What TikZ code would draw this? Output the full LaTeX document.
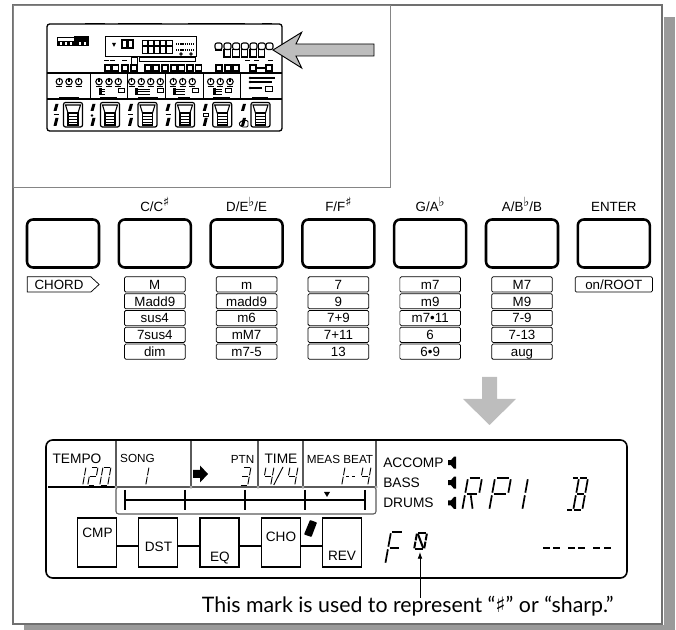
\documentclass[tikz,border=0pt]{standalone}
\usepackage{fontspec}
\usepackage{tikz}
\usetikzlibrary{arrows.meta, positioning, shapes.symbols}
\setmainfont{Liberation Sans}
\newfontfamily\notefont{Lato}
\newfontfamily\symfont{DejaVu Sans}
\definecolor{framegray}{HTML}{707070}
\definecolor{shadowgray}{HTML}{9A9A9A}
\definecolor{arrowgray}{HTML}{BDBDBD}
\definecolor{lcdgray}{HTML}{5A5A5A}
\newcommand{\shp}{\raisebox{.6ex}{\symfont\fontsize{9.5}{9.5}\selectfont ♯}}
\newcommand{\flt}{\raisebox{.7ex}{\symfont\fontsize{9.5}{9.5}\selectfont ♭}}
% lcd segments: a top, b-c right, d bottom, e-f left, g middle, h leg of R, n slashed, s slash
\def\lcdsega{(0.12,0)--(0.88,0)}
\def\lcdsegb{(1,0.08)--(1,0.92)}
\def\lcdsegc{(1,1.08)--(1,1.92)}
\def\lcdsegd{(0.12,2)--(0.88,2)}
\def\lcdsege{(0,1.08)--(0,1.92)}
\def\lcdsegf{(0,0.08)--(0,0.92)}
\def\lcdsegg{(0.12,1)--(0.88,1)}
\def\lcdsegh{(0.42,1.08)--(0.72,1.92)}
\def\lcdsegn{(0.1,0.1)--(0.9,1.9)}
\def\lcdsegs{(0,2)--(1,0)}
\newcommand{\lcdchar}[6][1.3pt]{%
  \begin{scope}[shift={(#2,#3)},x={(#4*0.75pt,0pt)},y={(-#5*0.0675pt,-#5*0.375pt)},line width=#1]
    \foreach \seg in {#6} {
      \expandafter\let\expandafter\segpath\csname lcdseg\seg\endcsname
      \draw \segpath;
    }
  \end{scope}}
\begin{document}
\begin{tikzpicture}[
    x=0.75pt, y=-0.75pt,
    node distance=12.95pt,
    keybtn/.style={draw, line width=1.9pt, rounded corners=4.5pt, minimum width=54pt, minimum height=36pt, inner sep=0pt},
    keylbl/.style={font=\fontsize{10}{12}\selectfont, inner sep=0pt, text height=8pt, text depth=0pt},
    chordbox/.style={draw, line width=0.55pt, rounded corners=1pt, minimum width=45.5pt, minimum height=11.4pt, inner sep=0pt, font=\fontsize{10}{11}\selectfont, text height=7.4pt, text depth=0.2pt},
    fxbox/.style={draw, line width=1.2pt, minimum width=29.5pt, minimum height=36.5pt, inner sep=0pt},
    fxlbl/.style={font=\fontsize{10.2}{12}\selectfont, inner sep=0pt},
    lcdlbl/.style={font=\fontsize{10.3}{12}\selectfont, inner sep=0pt},
    smalllbl/.style={font=\fontsize{8.8}{10}\selectfont, inner sep=0pt},
    devline/.style={line width=0.7pt},
    bigarrow/.style={fill=arrowgray}
]
    \useasboundingbox (0,0) rectangle (676,630);

    % Cornice e ombra
    \fill[shadowgray] (664,17) rectangle (675,630);
    \fill[shadowgray] (24,625) rectangle (675,630);
    \draw[framegray, line width=1.8pt] (13,5) rectangle (662,624);
    \draw[framegray!85, line width=0.7pt] (13,5) rectangle (390.5,187);

    % Pannello in miniatura
    \draw[line width=1pt, rounded corners=2pt] (47,24) rectangle (282,131);
    \foreach \xa/\xb in {85/105, 118/162, 188/245, 262/272}
        \draw[devline] (\xa,23.5) -- (\xb,23.5);
    \draw[line width=0.8pt] (47,73) -- (282,73);
    \draw[line width=0.8pt] (47,99) -- (282,99);
    \foreach \x in {90,127.5,165,203,240}
        \draw[devline] (\x,73) -- (\x,99);
    % logo
    \draw[devline] (57,37) rectangle (74,41);
    \fill (74,36.5) rectangle (89,41);
    \fill (57,41.5) rectangle (89,46.5);
    \foreach \x in {60,65,70,79,84}
        \fill[white] (\x,42.5) rectangle (\x+2,45);
    % display
    \draw[devline] (105,36) rectangle (196,56);
    \fill (112,43) -- (116,43) -- (114,47) -- cycle;
    \draw[line width=0.9pt] (122,40) rectangle (127,48);
    \draw[line width=0.9pt] (128,40) rectangle (133,48);
    \draw[devline] (142,40) rectangle (172,53);
    \foreach \x in {148,154,160,166}
        \draw[line width=1pt] (\x,40) -- (\x,53);
    \draw[line width=1.2pt] (142,46) -- (172,46);
    \foreach \y in {44,50} {
        \draw[line width=2pt, dash pattern=on 1pt off 0.6pt] (176,\y) -- (195,\y);
    }
    \foreach \x in {181,191}
        \draw[devline] (\x,54) circle (1.3);
    % pulsanti a destra
    \foreach \xa in {215,224,232.7,241.3,250,258.3,266}
        \draw[line width=0.8pt, rounded corners=1.5pt] (\xa,43) rectangle (\xa+7,49.5);
    \foreach \xa in {224,232.7,241.3,250,258.3}
        \draw[line width=0.8pt] (\xa,49.5) rectangle (\xa+6.5,57);
    \draw[line width=1pt] (215,50) -- (222,50);
    % fila sotto il display
    \foreach \xa in {105,112.5,122,131,145,153,162,171,178.5,187,195.5,216,225,233,250,266}
        \draw[line width=0.8pt] (\xa,65) rectangle (\xa+6,71);
    \draw[devline] (131,57) rectangle (137,65);
    \draw[devline] (139,57) rectangle (195,61);
    \foreach \x in {106,112,124,247,256,270}
        \fill (\x-2,60) rectangle (\x+3,61.5);
    \draw[line width=1.2pt] (256,68) -- (266,68);
    % manopole
    \foreach \x in {59.3,69,78.7,99,109,118.3,131.7,141.3,150.7,160.3,173.3,182.7,192.3,210.7,220.3,230} {
        \draw[line width=0.8pt] (\x,81.7) circle (3.2);
        \draw[line width=0.8pt] (\x,78) -- (\x,81.7);
        \draw[line width=0.5pt] (\x-3,86.5) -- (\x+3,86.5);
    }
    \foreach \xa/\xb in {59/79, 100/117, 138/158, 178/190, 213/230, 252/268}
        \draw[line width=0.8pt] (\xa,97.7) -- (\xb,97.7);
    % cursori
    \foreach \xa/\xb/\xc in {99/105/118, 135/150/157, 173/185/192, 213/222/225} {
        \fill (\xa,88) rectangle (\xa+2.5,95);
        \foreach \y in {89,91.5,94}
            \draw[line width=0.5pt] (\xa,\y) -- (\xb,\y);
        \draw[line width=0.7pt] (\xc,88) rectangle (\xc+6,92);
    }
    \foreach \y/\xb in {78/275, 82/272, 88/262}
        \draw[line width=0.8pt] (250,\y) -- (\xb,\y);
    \foreach \y in {78,82,88}
        \fill (250,\y) circle (1.4);
    \draw[line width=0.7pt] (265,86) rectangle (272,91);
    % pedali
    \foreach \x in {63.5,100.5,138,175.5,212.7,251} {
        \draw[line width=0.9pt, rounded corners=1.5pt] (\x,102.5) rectangle (\x+19,127);
        \draw[line width=0.8pt] (\x+2,105) -- (\x+17,105) -- (\x+14.5,113) -- (\x+4.5,113) -- cycle;
        \draw[line width=0.9pt] (\x+4.5,113) rectangle (\x+14.5,125);
        \foreach \y in {116,119,122}
            \draw[line width=0.5pt] (\x+4.5,\y) -- (\x+14.5,\y);
        \fill (\x-8,104) -- (\x-5,104) -- (\x-7,111) -- (\x-10,111) -- cycle;
        \fill (\x-8,118) -- (\x-5,118) -- (\x-7,126) -- (\x-10,126) -- cycle;
    }
    \foreach \x in {63.5,138,175.5}
        \draw[line width=0.7pt] (\x-10,114.5) -- (\x-5,114.5);
    \fill (92,115.5) circle (1.4);
    \draw[line width=0.7pt] (203.5,113) rectangle (208,116.5);
    \draw[line width=0.7pt, rounded corners=1pt] (242,120.5) -- (248,120.5) -- (248,127) -- (242,127) -- (238.5,124) -- cycle;

    % Freccia verso i tasti
    \draw[bigarrow, line width=0.7pt] (273,50) -- (301.7,32.3) -- (296,44) -- (374,44)
        -- (374,56) -- (296,56) -- (301.7,68) -- cycle;

    % Tasti
    \node[keybtn] at (63,243.5) (kchord) {};
    \node[keybtn, right=of kchord] (kc) {};
    \node[keybtn, right=of kc] (kd) {};
    \node[keybtn, right=of kd] (kf) {};
    \node[keybtn, right=of kf] (kg) {};
    \node[keybtn, right=of kg] (ka) {};
    \node[keybtn, right=of ka] (kenter) {};

    \node[keylbl, above=5.2pt of kc] (lblc) {C/C\shp};
    \node[keylbl, above=5.2pt of kd] (lbld) {D/E\flt/E};
    \node[keylbl, above=5.2pt of kf] (lblf) {F/F\shp};
    \node[keylbl, above=5.2pt of kg] (lblg) {G/A\flt};
    \node[keylbl, above=5.2pt of ka] (lbla) {A/B\flt/B};
    \node[keylbl, above=5.2pt of kenter] (lblenter) {ENTER};

    % Tipi di accordo
    \foreach \col/\ta/\tb/\tc/\td/\te in {kc/M/Madd9/sus4/7sus4/dim, kd/m/madd9/m6/mM7/m7-5,
        kf/7/9/7+9/7+11/13, kg/m7/m9/m7•11/6/6•9, ka/M7/M9/7-9/7-13/aug} {
        \node[chordbox, below=5.8pt of \col] (\col a) {\ta};
        \node[chordbox, below=0.65pt of \col a] (\col b) {\tb};
        \node[chordbox, below=0.65pt of \col b] (\col c) {\tc};
        \node[chordbox, below=0.65pt of \col c] (\col d) {\td};
        \node[chordbox, below=0.65pt of \col d] (\col e) {\te};
    }
    \node[chordbox, shape=signal, signal to=east, signal pointer angle=85, rounded corners=0pt, minimum width=54pt, below=5.8pt of kchord, xshift=-3pt] (chordtag) {CHORD\hspace{6pt}};
    \node[chordbox, minimum width=58pt, below=5.8pt of kenter] (roottag) {on/ROOT};

    % Freccia in basso
    \fill[arrowgray] (482,377) -- (497,377) -- (497,399) -- (516,399) -- (489.5,425)
        -- (463,399) -- (482,399) -- cycle;

    % Display LCD
    \draw[line width=1.2pt, rounded corners=5pt] (46,440) rectangle (627,578);
    \draw[line width=1pt] (48,487) -- (116,487);
    \draw[lcdgray, line width=1pt] (116,487) -- (376,487);
    \foreach \x in {116,191,258,303,376}
        \draw[lcdgray, line width=0.8pt] (\x,441) -- (\x,487);
    \draw[lcdgray, line width=0.8pt, rounded corners=2pt] (116,487) rectangle (376,514);
    \foreach \x in {116,191,258,303,376}
        \draw[lcdgray, fill=white, line width=0.3pt] (\x,487) circle (1.3);
    \draw[line width=0.9pt] (125,500) -- (365,500);
    \foreach \x in {125,185,245,305,365}
        \draw[line width=1.3pt] (\x,490) -- (\x,510);
    \fill (324,492) -- (330,492) -- (327,497) -- cycle;
    \fill (193,470) -- (200,470) -- (200,465.5) -- (208,474) -- (200,482.5) -- (200,478) -- (193,478) -- cycle;

    \node[lcdlbl] (tempo) at (77,459) {TEMPO};
    \node[smalllbl] (song) at (137.5,458) {SONG};
    \node[smalllbl] (ptn) at (242.5,459) {PTN};
    \node[lcdlbl] (time) at (281,459) {TIME};
    \node[smalllbl] (measbeat) at (340,459) {MEAS BEAT};
    \node[lcdlbl, anchor=west] (accomp) at (383,462.7) {ACCOMP};
    \node[lcdlbl, anchor=west] (bass) at (383,482.7) {BASS};
    \node[lcdlbl, anchor=west] (drums) at (383,503) {DRUMS};
    \foreach \y in {462.7,482.7,503}
        \fill (448,\y-2.5) -- (451,\y-2.5) -- (454,\y-6) -- (456,\y-6) -- (456,\y+6) -- (454,\y+6) -- (451,\y+2.5) -- (448,\y+2.5) -- cycle;

    % Cifre a segmenti
    \lcdchar[0.7pt]{83}{467}{3}{18}{b,c}
    \lcdchar[0.7pt]{91}{467}{7}{18}{a,b,g,e,d}
    \lcdchar[0.7pt]{103}{467}{8}{18}{a,b,c,d,e,f}
    \lcdchar[0.7pt]{146}{467}{3}{18}{b,c}
    \lcdchar[0.7pt]{243}{467}{8}{18}{a,b,c,d,g}
    \lcdchar[0.7pt]{266}{467}{8}{18}{f,g,b,c}
    \lcdchar[0.7pt]{277}{467}{6}{18}{s}
    \lcdchar[0.7pt]{290}{467}{8}{18}{f,g,b,c}
    \lcdchar[0.7pt]{342}{467}{3}{18}{b,c}
    \lcdchar[0.7pt]{347}{467}{4}{18}{g}
    \lcdchar[0.7pt]{353}{467}{4}{18}{g}
    \lcdchar[0.7pt]{363}{467}{8}{18}{f,g,b,c}
    \lcdchar{468}{478}{14}{32}{a,b,e,f,g,h}
    \lcdchar{495}{478}{16}{32}{a,b,e,f,g}
    \lcdchar{522}{478}{6}{32}{b,c}
    \lcdchar{572}{478}{7}{32}{a,d}
    \lcdchar{579}{478}{9}{32}{a,b,c,d,e,f,g}
    \lcdchar{391}{532}{12}{32}{a,e,f,g}
    \lcdchar[1.5pt]{417}{533}{10}{16}{a,b,c,d,e,f,n}
    \foreach \xa/\xb in {543/550, 553/560, 568/575, 578/585, 593/600, 604/611}
        \draw[line width=1.3pt] (\xa,548) -- (\xb,548);

    % Catena effetti
    \node[fxbox] (cmp) at (97,542.5) {};
    \node[fxbox] (dst) at (158,542.5) {};
    \node[fxbox] (eq) at (219.5,542.5) {};
    \node[fxbox] (cho) at (281,542.5) {};
    \node[fxbox] (rev) at (342,542.5) {};
    \node[fxlbl] (cmplbl) at (97.5,533) {CMP};
    \node[fxlbl] (dstlbl) at (158.5,546.7) {DST};
    \node[fxlbl] (eqlbl) at (220,558) {EQ};
    \node[fxlbl] (cholbl) at (281,537) {CHO};
    \node[fxlbl] (revlbl) at (342,555.7) {REV};
    \foreach \a/\b in {cmp/dst, dst/eq, eq/cho, cho/rev}
        \draw[line width=1.2pt] ([yshift=-2.6pt]\a.east) -- ([yshift=-2.6pt]\b.west);
    \fill[rounded corners=0.5pt] (310,520) -- (317,522.5) -- (311.5,537) -- (304,534.5) -- cycle;

    % Nota
    \coordinate (sharpmark) at (420,552);
    \coordinate (notetail) at (420,598);
    \draw[-{Latex[length=5pt,width=3.5pt]}, line width=0.6pt] (notetail) -- (sharpmark);
    \node[anchor=base east, inner sep=0pt, font=\notefont\fontsize{16}{18}\selectfont] (note) at (614,613)
        {This mark is used to represent “{\symfont ♯}” or “sharp.”};
\end{tikzpicture}
\end{document}
